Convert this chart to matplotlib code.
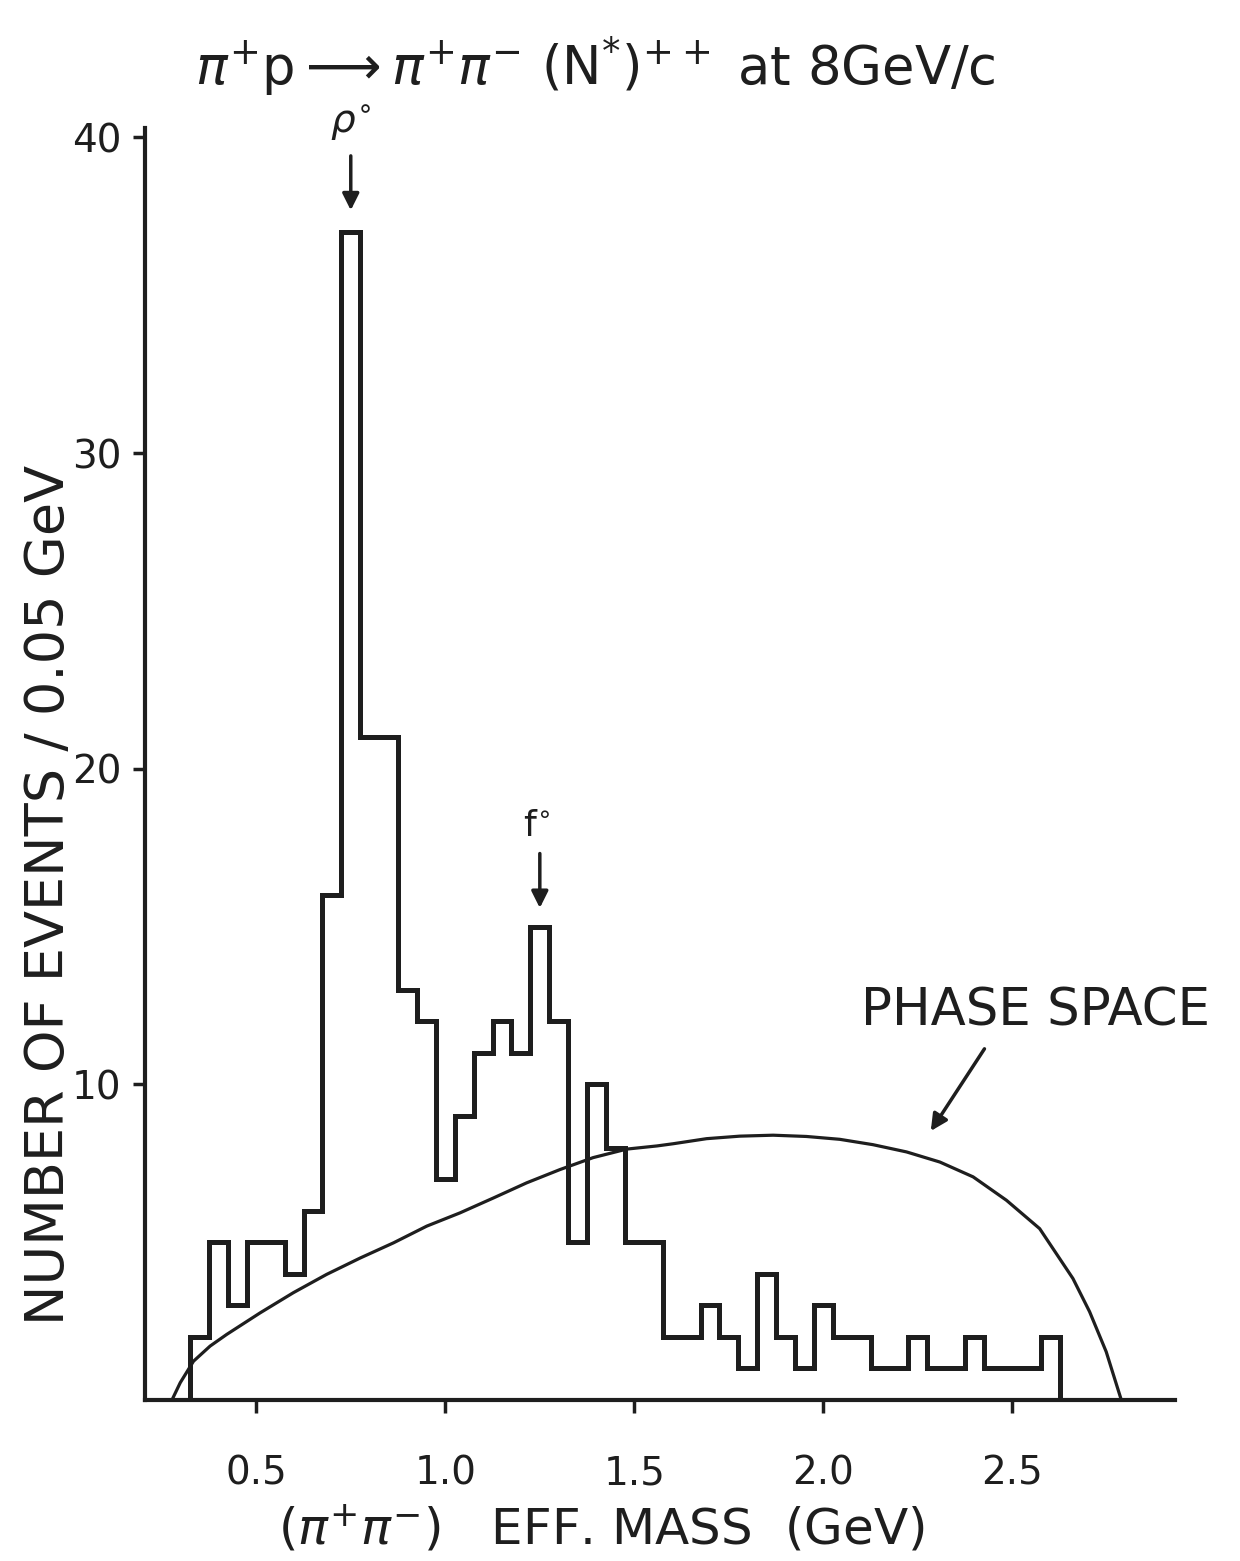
import numpy as np
import matplotlib
matplotlib.use("Agg")
import matplotlib.pyplot as plt

# --- data (events per 0.05 GeV bin) ---
bin_centres = np.round(np.arange(0.35, 2.601, 0.05), 3)
counts = [2, 5, 3, 5, 5, 4, 6, 16, 37, 21,
          21, 13, 12, 7, 9, 11, 12, 11, 15, 12,
          5, 10, 8, 5, 5, 2, 2, 3, 2, 1,
          4, 2, 1, 3, 2, 2, 1, 1, 2, 1,
          1, 2, 1, 1, 1, 2]
bin_width = 0.05

# phase space curve
ps_mass = [0.277, 0.299, 0.334, 0.378, 0.422, 0.510, 0.598, 0.686, 0.775, 0.863,
           0.951, 1.039, 1.127, 1.215, 1.303, 1.391, 1.480, 1.560, 1.603, 1.691,
           1.779, 1.867, 1.955, 2.043, 2.131, 2.220, 2.308, 2.396, 2.484, 2.572,
           2.660, 2.704, 2.748, 2.788]
ps_events = [0.0, 0.55, 1.23, 1.71, 2.08, 2.76, 3.40, 3.98, 4.50, 4.98,
             5.51, 5.93, 6.40, 6.88, 7.30, 7.68, 7.95, 8.05, 8.12, 8.28,
             8.36, 8.39, 8.35, 8.26, 8.09, 7.86, 7.54, 7.07, 6.33, 5.43,
             3.85, 2.80, 1.53, 0.0]

x_ticks = [0.5, 1.0, 1.5, 2.0, 2.5]
x_ticklabels = ["0.5", "1.0", "1.5", "2.0", "2.5"]
y_ticks = [10, 20, 30, 40]

ink = "#1e1e1e"
narrow = ["Liberation Sans Narrow", "DejaVu Sans"]
plt.rcParams["mathtext.fontset"] = "dejavusans"

fig = plt.figure(figsize=(12.4, 15.61), dpi=100)
ax = fig.add_axes([0.117, 0.1031, 0.8306, 0.815])

edges = np.append(bin_centres - bin_width / 2, bin_centres[-1] + bin_width / 2)
ax.stairs(counts, edges, baseline=0, color=ink, linewidth=3.6)
ax.plot(ps_mass, ps_events, color=ink, linewidth=2.3, solid_joinstyle="round")

ax.set_xlim(0.206, 2.93)
ax.set_ylim(0, 40.3)
for side in ("top", "right"):
    ax.spines[side].set_visible(False)
for side in ("left", "bottom"):
    ax.spines[side].set_linewidth(3)
    ax.spines[side].set_color(ink)

ax.set_xticks(x_ticks)
ax.set_xticklabels(x_ticklabels, family=narrow, fontsize=28)
ax.set_yticks(y_ticks)
ax.set_yticklabels([str(v) for v in y_ticks], fontsize=28)
ax.tick_params(axis="x", direction="out", length=9, width=2.5, colors=ink, pad=30)
ax.tick_params(axis="y", direction="out", length=9, width=2.5, colors=ink, pad=8)

ax.set_ylabel("NUMBER OF EVENTS / 0.05 GeV", fontsize=39, color=ink)
ax.yaxis.set_label_coords(-0.068, 0.397)
fig.text(0.485, 0.02, r"$(\pi^{+}\pi^{-})$   EFF. MASS  (GeV)", fontsize=36,
         color=ink, ha="center", va="center")
fig.text(0.48, 0.958,
         r"$\pi^{+}\mathrm{p}\longrightarrow\pi^{+}\pi^{-}\ (\mathrm{N}^{*})^{++}$ at 8GeV/c",
         fontsize=38, color=ink, ha="center", va="center")

# resonance markers
ax.annotate("", xy=(0.75, 37.6), xytext=(0.75, 39.5),
            arrowprops=dict(arrowstyle="-|>", color=ink, lw=2.5, mutation_scale=25),
            annotation_clip=False)
ax.text(0.75, 40.5, r"$\rho^{\circ}$", fontsize=28, ha="center", va="center",
        color=ink, clip_on=False)
ax.annotate("", xy=(1.25, 15.5), xytext=(1.25, 17.4),
            arrowprops=dict(arrowstyle="-|>", color=ink, lw=2.5, mutation_scale=25))
ax.text(1.24, 18.2, r"f$^{\circ}$", fontsize=26, ha="center", va="center", color=ink)

ax.text(2.56, 12.3, "PHASE SPACE", fontsize=37, ha="center", va="center", color=ink)
ax.annotate("", xy=(2.28, 8.45), xytext=(2.43, 11.2),
            arrowprops=dict(arrowstyle="-|>", color=ink, lw=2.5, mutation_scale=25))

fig.savefig("out.png", dpi=100, facecolor="white")
